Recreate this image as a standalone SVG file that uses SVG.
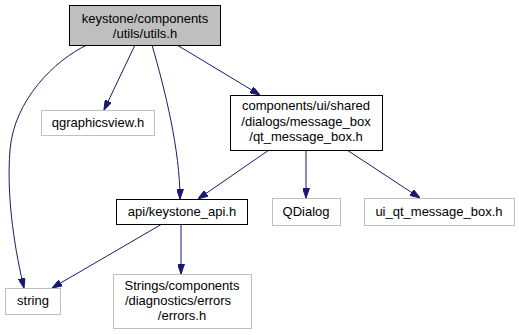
<svg xmlns="http://www.w3.org/2000/svg" width="519" height="335" viewBox="0 0 519 335">
<style>
text{font-family:"Liberation Sans",Arial,sans-serif;font-size:13px;fill:#000;text-anchor:middle}
.n{fill:#fff;stroke:#000;stroke-width:1}
.g{fill:#fff;stroke:#bfbfbf;stroke-width:1}
.e{fill:none;stroke:#191970;stroke-width:1;marker-end:url(#a)}
</style>
<defs>
<marker id="a" viewBox="0 0 10 7" refX="10" refY="3.5" markerWidth="10" markerHeight="7" markerUnits="userSpaceOnUse" orient="auto">
<path d="M0,0 L10,3.5 L0,7 z" fill="#191970" stroke="#191970"/>
</marker>
</defs>
<rect width="519" height="335" fill="#fff"/>
<g id="edges">
<path class="e" d="M87,45 C55,60 14,100 10,150 C6,200 16,255 24,288"/>
<path class="e" d="M135,45 L104,110"/>
<path class="e" d="M152,45 C165,90 180,150 180,199"/>
<path class="e" d="M177,45 L260,95"/>
<path class="e" d="M269,150 L198,199"/>
<path class="e" d="M306,150 L306,198"/>
<path class="e" d="M347,150 L420,198"/>
<path class="e" d="M162,224 L52,288"/>
<path class="e" d="M181,224 L181,274"/>
</g>
<g id="root">
<rect x="69.5" y="5.5" width="151" height="40" fill="#bfbfbf" stroke="#000"/>
<text x="145" y="23">keystone/components</text>
<text x="145" y="38">/utils/utils.h</text>
</g>
<g id="qgraphicsview">
<rect class="g" x="41.5" y="110.5" width="113" height="25"/>
<text x="98" y="127">qgraphicsview.h</text>
</g>
<g id="qt_message_box">
<rect class="n" x="230.5" y="95.5" width="152" height="55"/>
<text x="306" y="110">components/ui/shared</text>
<text x="306" y="126">/dialogs/message_box</text>
<text x="306" y="141">/qt_message_box.h</text>
</g>
<g id="keystone_api">
<rect class="n" x="116.5" y="199.5" width="131" height="25"/>
<text x="182" y="216">api/keystone_api.h</text>
</g>
<g id="qdialog">
<rect class="g" x="272.5" y="198.5" width="68" height="27"/>
<text x="306" y="216">QDialog</text>
</g>
<g id="ui_qt_message_box">
<rect class="g" x="364.5" y="198.5" width="150" height="27"/>
<text x="439" y="216">ui_qt_message_box.h</text>
</g>
<g id="string">
<rect class="g" x="5.5" y="288.5" width="55" height="26"/>
<text x="33" y="305">string</text>
</g>
<g id="errors">
<rect class="g" x="113.5" y="274.5" width="138" height="54"/>
<text x="182" y="290">Strings/components</text>
<text x="178" y="305">/diagnostics/errors</text>
<text x="182" y="320">/errors.h</text>
</g>
</svg>
